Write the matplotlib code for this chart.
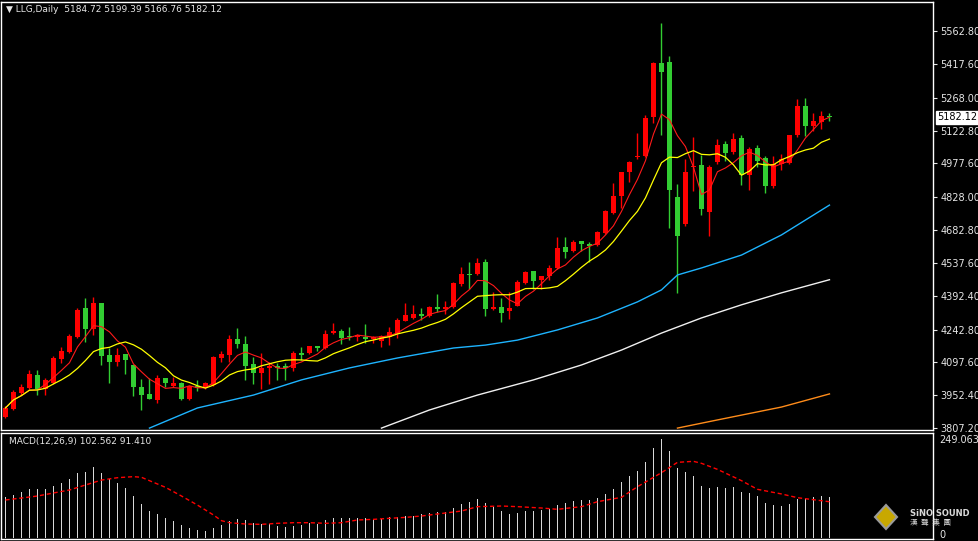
import matplotlib
matplotlib.use("Agg")
import matplotlib.pyplot as plt
import numpy as np
import pandas as pd

# daily candles (red = up, green = down)
opens = [3856, 3891, 3962, 3984, 4042, 3980, 4006, 4113, 4144, 4210,
         4338, 4247, 4360, 4130, 4099, 4135, 4086, 3989, 3958, 3931,
         4029, 3993, 4006, 3936, 3993, 3984, 3998, 4117, 4130, 4201,
         4179, 4090, 4051, 4073, 4082, 4082, 4073, 4139, 4139, 4170,
         4161, 4228, 4236, 4212, 4210, 4210, 4201, 4192, 4210, 4228,
         4281, 4294, 4312, 4303, 4342, 4334, 4342, 4444, 4488, 4488,
         4541, 4334, 4342, 4325, 4347, 4449, 4502, 4462, 4480, 4515,
         4608, 4590, 4634, 4621, 4617, 4670, 4758, 4833, 4939, 5005,
         5010, 5183, 5421, 5426, 4829, 4710, 4962, 4970, 4763, 4984,
         5063, 5028, 5090, 4926, 5046, 5001, 4878, 4975, 4979, 5103,
         5231, 5143, 5161, 5184.72]
highs = [3905, 3975, 4000, 4064, 4064, 4030, 4125, 4165, 4225, 4340,
         4382, 4385, 4360, 4160, 4160, 4135, 4086, 4024, 4029, 4040,
         4029, 4035, 4010, 3995, 4020, 4010, 4125, 4150, 4219, 4250,
         4215, 4120, 4140, 4100, 4095, 4095, 4150, 4165, 4172, 4172,
         4240, 4272, 4245, 4255, 4222, 4265, 4215, 4218, 4255, 4295,
         4360, 4350, 4340, 4345, 4400, 4370, 4455, 4520, 4540, 4560,
         4555, 4409, 4380, 4409, 4460, 4500, 4502, 4480, 4530, 4650,
         4650, 4640, 4634, 4630, 4680, 4770, 4891, 4939, 4990, 5110,
         5190, 5425, 5598, 5452, 4886, 4995, 5094, 5015, 4970, 5085,
         5075, 5110, 5105, 5050, 5060, 5010, 5010, 5020, 5103, 5260,
         5265, 5200, 5210, 5199.39]
lows = [3850, 3885, 3955, 3980, 3953, 3955, 4000, 4095, 4140, 4205,
        4188, 4218, 4086, 4006, 4080, 4046, 3950, 3887, 3936, 3920,
        3990, 3990, 3930, 3930, 3970, 3980, 3995, 4100, 4100, 4160,
        4020, 4000, 3980, 4000, 4020, 4020, 4060, 4110, 4135, 4150,
        4155, 4225, 4180, 4195, 4190, 4185, 4185, 4165, 4175, 4205,
        4280, 4290, 4285, 4300, 4320, 4310, 4340, 4435, 4420, 4485,
        4303, 4330, 4275, 4290, 4345, 4445, 4420, 4420, 4460, 4510,
        4560, 4585, 4590, 4540, 4610, 4665, 4755, 4780, 4895, 4995,
        5005, 5157, 5105, 4692, 4404, 4700, 4855, 4750, 4656, 4975,
        4990, 5020, 4880, 4860, 4960, 4845, 4870, 4950, 4975, 5095,
        5100, 5120, 5130, 5166.76]
closes = [3896, 3967, 3989, 4046, 3980, 4020, 4117, 4148, 4214, 4330,
          4247, 4360, 4126, 4099, 4130, 4108, 3989, 3953, 3936, 4029,
          4006, 4006, 3936, 3993, 3984, 4006, 4121, 4135, 4201, 4179,
          4082, 4051, 4073, 4082, 4073, 4073, 4139, 4130, 4170, 4161,
          4223, 4236, 4205, 4208, 4219, 4201, 4210, 4214, 4232, 4285,
          4307, 4312, 4303, 4342, 4334, 4342, 4449, 4488, 4484, 4537,
          4334, 4342, 4316, 4338, 4453, 4497, 4458, 4480, 4515, 4603,
          4586, 4630, 4621, 4612, 4674, 4767, 4833, 4939, 4984, 5010,
          5180, 5421, 5382, 4860, 4656, 4939, 4966, 4776, 4962, 5059,
          5023, 5085, 4926, 5041, 4988, 4878, 4975, 4997, 5103, 5231,
          5143, 5165, 5187, 5182.12]

# longer moving averages (estimated from the chart at a few bars)
ma_blue_idx = [18, 24, 31, 37, 43, 49, 56, 60, 64, 69, 74, 79, 82, 84, 87, 92, 97, 103]
ma_blue_val = [3807, 3896, 3953, 4020, 4073, 4117, 4161, 4174, 4196, 4241,
               4294, 4365, 4418, 4484, 4515, 4572, 4661, 4793]
ma_white_idx = [47, 53, 59, 66, 72, 77, 82, 87, 92, 97, 103]
ma_white_val = [3807, 3887, 3953, 4020, 4086, 4152, 4227, 4294, 4352, 4405, 4463]
ma_orange_idx = [84, 89, 97, 103]
ma_orange_val = [3807, 3843, 3900, 3958]

# MACD histogram and signal
macd_hist = [102.5, 108, 116, 123.5, 123.5, 123.5, 131, 138.6, 148, 164,
             166, 179, 165, 148.7, 138.6, 126, 106, 85.7, 68, 60.5,
             50.4, 43.7, 32.8, 24.4, 20.2, 16.8, 26, 32.8, 42.8, 47,
             45.4, 37, 35.3, 35.3, 30.2, 27.7, 29.4, 32.8, 37, 36,
             45.4, 50.4, 50.4, 49.6, 49.6, 49.6, 48.7, 48.7, 52, 52,
             55.4, 55.4, 60.5, 63, 65.5, 65.5, 75.6, 85.7, 90.7, 98.3,
             88.2, 78, 68, 60.5, 63, 68, 68, 70.6, 73, 83,
             88.2, 93, 95.8, 95.8, 100.8, 111, 123.5, 141, 156, 169,
             191.5, 226.8, 249.5, 219, 176.4, 166, 156, 131, 126, 128.5,
             126, 128.5, 116, 113.4, 105.8, 88.2, 83, 80.6, 85.7, 98.3,
             100.8, 103.3, 105.8, 102.562]
signal_idx = [0, 4, 8, 10, 12, 14, 16, 17, 18, 20, 22, 24, 26, 27, 28, 30, 32, 34,
              36, 38, 40, 42, 44, 46, 48, 50, 52, 54, 57, 59, 62, 64, 67, 69, 72,
              74, 77, 79, 82, 84, 86, 87, 89, 92, 94, 97, 99, 103]
signal_val = [95.8, 105.8, 121, 133.6, 146, 152, 154.6, 153, 144.5, 127.7, 105.8,
              83, 58, 43.7, 38.6, 35.3, 34.4, 37, 38.6, 38.6, 37, 38.6, 45.4, 47,
              49.6, 52, 55.4, 60.5, 68, 79, 80.6, 79, 75.6, 72.3, 79, 91.5, 102.5,
              129.3, 164.6, 190.7, 193.2, 188.2, 173, 144.5, 122.7, 111, 101.6, 91.41]

price_ticks = [5562.80, 5417.60, 5268.00, 5122.80, 4977.60, 4828.00, 4682.80,
               4537.60, 4392.40, 4242.80, 4097.60, 3952.40, 3807.20]

UP = "#ff0000"
DOWN = "#32cd32"
TXT = "#e6e6e6"

x = np.arange(len(closes))
o = np.array(opens); c = np.array(closes); h = np.array(highs); l = np.array(lows)
ma5 = pd.Series(c).rolling(5, min_periods=1).mean()
ma10 = pd.Series(c).rolling(10, min_periods=1).mean()

fig = plt.figure(figsize=(9.79, 5.41), dpi=100, facecolor="black")
ax = fig.add_axes([0.0015, 1 - 430 / 541, 932 / 979, 428 / 541], facecolor="black")
axm = fig.add_axes([0.0015, 2 / 541, 932 / 979, 106 / 541], facecolor="black")

# candles
colors = np.where(c >= o, UP, DOWN)
ax.vlines(x, l, h, colors=colors, linewidth=1)
body = np.maximum(np.abs(c - o), 2.5)
ax.bar(x, body, bottom=np.minimum(o, c), width=0.62, color=colors, linewidth=0)

ax.plot(x, ma5, color="#ff1a1a", lw=0.8)
ax.plot(x, ma10, color="#ffff00", lw=0.9)
ax.plot(ma_blue_idx, ma_blue_val, color="#1eb4ff", lw=1)
ax.plot(ma_white_idx, ma_white_val, color="#f0f0f0", lw=1)
ax.plot(ma_orange_idx, ma_orange_val, color="#ff8c1a", lw=1)

ax.set_xlim(-0.5, 116)
ax.set_ylim(3798.5, 5691)
ax.set_xticks([])
ax.yaxis.tick_right()
ax.set_yticks(price_ticks)
ax.set_yticklabels([f"{v:.2f}" for v in price_ticks])
ax.tick_params(axis="y", colors=TXT, labelsize=7, length=3, width=0.8, pad=2)

# current price tag
ax.annotate(f"{closes[-1]:.2f}", xy=(1, closes[-1]), xycoords=("axes fraction", "data"),
            xytext=(3, 0), textcoords="offset points", va="center", ha="left",
            fontsize=7, color="black",
            bbox=dict(boxstyle="square,pad=0.15", fc="white", ec="white"))

ax.text(0.005, 0.993, f"\u25bc LLG,Daily  {opens[-1]:.2f} {highs[-1]:.2f} {lows[-1]:.2f} {closes[-1]:.2f}",
        transform=ax.transAxes, va="top", ha="left", fontsize=6.5, color=TXT)

# MACD panel
axm.bar(x, macd_hist, width=0.2, color="#d9d9d9", linewidth=0)
axm.plot(signal_idx, signal_val, color="#ff0000", lw=1, ls=(0, (3, 2)))
axm.set_xlim(-0.5, 116)
axm.set_ylim(-2.5, 264.6)
axm.set_xticks([])
axm.yaxis.tick_right()
axm.set_yticks([249.063])
axm.set_yticklabels(["249.063"])
axm.tick_params(axis="y", colors=TXT, labelsize=7, length=0, pad=4)
axm.text(1.006, 0.035, "0", transform=axm.transAxes, va="center", ha="left",
         fontsize=7, color=TXT)
axm.text(0.008, 0.96, "MACD(12,26,9) 102.562 91.410", transform=axm.transAxes,
         va="top", ha="left", fontsize=6.5, color=TXT)

for a in (ax, axm):
    for s in a.spines.values():
        s.set_color("white")
        s.set_linewidth(1)

# watermark logo
fig.patches.append(plt.Polygon([[886 / 979, 1 - 505 / 541], [897 / 979, 1 - 517 / 541],
                                [886 / 979, 1 - 529 / 541], [875 / 979, 1 - 517 / 541]],
                               closed=True, transform=fig.transFigure,
                               fc="#c8a800", ec="#9a9a9a", lw=1.5))
fig.text(910 / 979, 1 - 514 / 541, "SiNO SOUND", fontsize=6, fontweight="bold",
         color="#d8d8d8", ha="left", va="center")
fig.text(910 / 979, 1 - 523 / 541, "漢  聲  集  團", fontsize=5.5, color="#d8d8d8",
         ha="left", va="center", family=["Noto Sans CJK TC", "DejaVu Sans"])

fig.savefig("out.png", dpi=100, facecolor="black")
